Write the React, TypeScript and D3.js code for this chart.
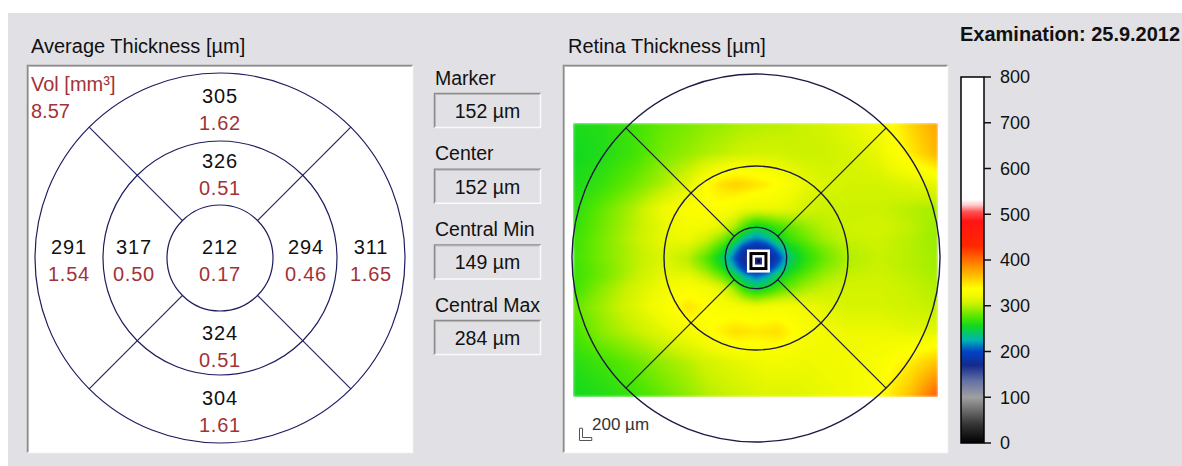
import React, { useMemo } from "react";
import * as d3 from "d3";

const FONT = "'Liberation Sans', Arial, Helvetica, sans-serif";

// ---------------- DATA ----------------
// ETDRS sectors: center, inner ring (top, right, bottom, left), outer ring (top, right, bottom, left)
const sectorRing = [0, 1, 1, 1, 1, 2, 2, 2, 2];
const sectorAngleDeg = [0, -90, 0, 90, 180, -90, 0, 90, 180];
const thicknessUm = [212, 326, 294, 324, 317, 305, 311, 304, 291];
const volumeMm3 = ["0.17", "0.51", "0.46", "0.51", "0.50", "1.62", "1.65", "1.61", "1.54"];
const totalVolumeMm3 = "8.57";

const infoLabels = ["Marker", "Center", "Central Min", "Central Max"];
const infoValuesUm = [152, 152, 149, 284];

const examinationDate = "25.9.2012";

const colorbarTicks = [0, 100, 200, 300, 400, 500, 600, 700, 800];
const colorStopValues = [0, 40, 100, 135, 170, 200, 225, 255, 275, 305, 322, 338, 370, 400, 430, 485, 505, 520, 532, 800];
const colorStopColors = [
  "#000000", "#333333", "#a0a0a0", "#6572a3", "#142a8c", "#0044c8", "#00b4b4", "#10d820",
  "#50e600", "#ccf200", "#f2fa00", "#ffff00", "#ffb400", "#ff7000", "#ff2800", "#ff1414", "#ff5050",
  "#ffc8c8", "#ffffff", "#ffffff",
];

// thickness map sample positions (mm from fovea) and values (µm)
const gridXmm = [-3.0, -2.5, -2.0, -1.5, -1.1, -0.8, -0.55, -0.35, -0.18, 0, 0.18, 0.35, 0.55, 0.8, 1.1, 1.5, 2.0, 2.5, 3.0];
const gridYmm = [-2.2, -1.7, -1.2, -0.8, -0.5, -0.3, -0.15, 0, 0.15, 0.3, 0.5, 0.8, 1.2, 1.7, 2.27];
const thicknessGrid = [
  [258, 262, 270, 280, 285, 290, 292, 295, 297, 298, 300, 300, 302, 305, 308, 315, 325, 355, 380],
  [255, 260, 270, 285, 292, 298, 302, 305, 307, 308, 308, 308, 306, 305, 305, 310, 318, 345, 372],
  [258, 268, 282, 298, 315, 338, 352, 358, 355, 350, 345, 338, 328, 318, 312, 308, 308, 312, 318],
  [262, 280, 298, 322, 332, 336, 334, 326, 320, 318, 318, 318, 315, 308, 305, 305, 305, 300, 295],
  [265, 283, 300, 318, 326, 322, 312, 295, 270, 250, 258, 268, 278, 290, 300, 306, 308, 302, 292],
  [268, 285, 302, 318, 320, 305, 285, 258, 225, 210, 222, 250, 268, 280, 294, 304, 306, 300, 292],
  [268, 285, 300, 315, 308, 290, 262, 225, 185, 172, 182, 215, 250, 268, 285, 300, 305, 300, 292],
  [270, 285, 300, 312, 300, 275, 245, 205, 165, 150, 160, 190, 240, 262, 280, 298, 304, 300, 294],
  [268, 283, 300, 315, 305, 285, 258, 222, 182, 170, 180, 212, 248, 268, 285, 300, 305, 300, 294],
  [268, 283, 302, 318, 318, 302, 282, 255, 225, 210, 222, 248, 265, 280, 294, 304, 306, 302, 296],
  [268, 290, 308, 324, 332, 326, 314, 292, 265, 250, 260, 272, 284, 296, 304, 308, 308, 304, 298],
  [278, 295, 312, 330, 350, 338, 330, 328, 325, 322, 325, 328, 326, 322, 316, 310, 310, 306, 302],
  [270, 290, 302, 315, 326, 335, 345, 352, 350, 348, 350, 352, 342, 330, 324, 320, 320, 316, 315],
  [262, 270, 280, 292, 300, 308, 312, 315, 318, 320, 322, 322, 322, 320, 322, 324, 330, 345, 365],
  [255, 260, 268, 280, 290, 298, 302, 305, 308, 310, 312, 312, 312, 315, 318, 322, 335, 365, 415],
];
const etdrsRadiiMm = [0.5, 1.5, 3.0];
const markerMm = [0.04, 0.05];
const scaleBarUm = 200;

// ---------------- LAYOUT ----------------
const W = 1182;
const H = 466;
const BG = "#e1e0e4";
const RING = "#1d1d5e";
const RED = "#a33238";

const LP = { x: 27, y: 65, w: 386, h: 388, cx: 220, cy: 258 };
const RP = { x: 563, y: 65, w: 385, h: 388, cx: 756, cy: 258 };
const leftRadiiPx = [53, 117, 185];
const labelRadiusPx = [0, 86, 151];

function SunkenBox({ x, y, w, h, fill }: { x: number; y: number; w: number; h: number; fill: string }) {
  return (
    <g>
      <rect x={x} y={y} width={w} height={h} fill={fill} />
      <path d={`M${x + 0.5},${y + h} V${y + 0.5} H${x + w}`} fill="none" stroke="#8c8c8c" strokeWidth={1.5} />
      <path d={`M${x + 1.5},${y + h - 1} V${y + 1.5} H${x + w - 1}`} fill="none" stroke="#b8b8b8" strokeWidth={1} />
      <path d={`M${x + 0.5},${y + h - 0.5} H${x + w - 0.5} V${y + 0.5}`} fill="none" stroke="#fafafa" strokeWidth={1.5} />
    </g>
  );
}

export default function App() {
  const color = useMemo(
    () => d3.scaleLinear<string>().domain(colorStopValues).range(colorStopColors).interpolate(d3.interpolateRgb).clamp(true),
    []
  );
  const mmX = d3.scaleLinear().domain([-3, 3]).range([RP.cx - 184, RP.cx + 184]);
  const mmY = d3.scaleLinear().domain([-3, 3]).range([RP.cy - 184, RP.cy + 184]);
  const cbY = d3.scaleLinear().domain([0, 800]).range([443, 77]);

  const hx0 = Math.round(mmX(gridXmm[0])) + 1;
  const hx1 = Math.round(mmX(gridXmm[gridXmm.length - 1])) - 2;
  const hy0 = Math.round(mmY(gridYmm[0]));
  const hy1 = Math.round(mmY(gridYmm[gridYmm.length - 1]));

  const heatUrl = useMemo(() => {
    if (typeof document === "undefined") return "";
    const w = hx1 - hx0;
    const h = hy1 - hy0;
    const canvas = document.createElement("canvas");
    canvas.width = w;
    canvas.height = h;
    const ctx = canvas.getContext("2d");
    if (!ctx) return "";
    const img = ctx.createImageData(w, h);
    const fx = d3.scaleLinear().domain(gridXmm).range(d3.range(gridXmm.length)).clamp(true);
    const fy = d3.scaleLinear().domain(gridYmm).range(d3.range(gridYmm.length)).clamp(true);
    const nx = gridXmm.length;
    const ny = gridYmm.length;
    for (let j = 0; j < h; j++) {
      const gy = fy(mmY.invert(hy0 + j + 0.5));
      const j0 = Math.min(ny - 2, Math.floor(gy));
      const ty = gy - j0;
      for (let i = 0; i < w; i++) {
        const gx = fx(mmX.invert(hx0 + i + 0.5));
        const i0 = Math.min(nx - 2, Math.floor(gx));
        const tx = gx - i0;
        const a = thicknessGrid[j0][i0] * (1 - tx) + thicknessGrid[j0][i0 + 1] * tx;
        const b = thicknessGrid[j0 + 1][i0] * (1 - tx) + thicknessGrid[j0 + 1][i0 + 1] * tx;
        const v = a * (1 - ty) + b * ty;
        const c = d3.rgb(color(v));
        const k = (j * w + i) * 4;
        img.data[k] = c.r;
        img.data[k + 1] = c.g;
        img.data[k + 2] = c.b;
        img.data[k + 3] = 255;
      }
    }
    ctx.putImageData(img, 0, 0);
    const out = document.createElement("canvas");
    out.width = w;
    out.height = h;
    const octx = out.getContext("2d");
    if (!octx) return canvas.toDataURL();
    octx.filter = "blur(1.5px)";
    octx.drawImage(canvas, 0, 0);
    return out.toDataURL();
  }, []);

  const diagAngles = [45, 135, 225, 315];
  const rightRadii = etdrsRadiiMm.map((r) => mmX(r) - mmX(0));

  const marker = [mmX(markerMm[0]), mmY(markerMm[1])];
  const scalePx = mmX(scaleBarUm / 1000) - mmX(0);

  return (
    <svg width={W} height={H} style={{ position: "absolute", left: 0, top: 0, display: "block" }} fontFamily={FONT}>
      <defs>
        <linearGradient id="cbGrad" x1="0" y1="1" x2="0" y2="0">
          {colorStopValues.map((v, i) => (
            <stop key={i} offset={v / 800} stopColor={colorStopColors[i]} />
          ))}
        </linearGradient>
        <clipPath id="rightClip">
          <rect x={RP.x + 2} y={RP.y + 2} width={RP.w - 4} height={RP.h - 4} />
        </clipPath>
      </defs>
      <rect x={0} y={0} width={W} height={H} fill="#ffffff" />
      <rect x={8} y={13} width={W - 8} height={H - 13} fill={BG} />

      {/* Titles */}
      <text x={31} y={53} fontSize={20} fill="#111">Average Thickness [µm]</text>
      <text x={568} y={53} fontSize={20} fill="#111">Retina Thickness [µm]</text>
      <text x={960} y={41} fontSize={20} fontWeight="bold" fill="#111">
        Examination: {examinationDate}
      </text>

      {/* LEFT PANEL */}
      <SunkenBox x={LP.x} y={LP.y} w={LP.w} h={LP.h} fill="#ffffff" />
      {leftRadiiPx.map((r, i) => (
        <circle key={i} cx={LP.cx} cy={LP.cy} r={r} fill="none" stroke={RING} strokeWidth={1.2} />
      ))}
      {diagAngles.map((a) => {
        const rad = (a * Math.PI) / 180;
        return (
          <line
            key={a}
            x1={LP.cx + leftRadiiPx[0] * Math.cos(rad)}
            y1={LP.cy + leftRadiiPx[0] * Math.sin(rad)}
            x2={LP.cx + leftRadiiPx[2] * Math.cos(rad)}
            y2={LP.cy + leftRadiiPx[2] * Math.sin(rad)}
            stroke={RING}
            strokeWidth={1.1}
          />
        );
      })}
      <text x={31} y={91} fontSize={20} fill={RED}>
        Vol [mm³]
      </text>
      <text x={31} y={118} fontSize={20} fill={RED}>
        {totalVolumeMm3}
      </text>
      {thicknessUm.map((t, i) => {
        const rad = (sectorAngleDeg[i] * Math.PI) / 180;
        const r = labelRadiusPx[sectorRing[i]];
        const x = LP.cx + r * Math.cos(rad);
        const y = LP.cy + r * Math.sin(rad) + 2;
        return (
          <g key={i}>
            <text x={x} y={y - 6} fontSize={20} textAnchor="middle" fill="#111" letterSpacing={0.8}>
              {t}
            </text>
            <text x={x} y={y + 21} fontSize={20} textAnchor="middle" fill={RED} letterSpacing={0.8}>
              {volumeMm3[i]}
            </text>
          </g>
        );
      })}

      {/* MIDDLE INFO BOXES */}
      {infoLabels.map((lab, i) => {
        const y0 = 93 + i * 75.7;
        return (
          <g key={lab}>
            <text x={435} y={y0 - 8.5} fontSize={19.5} fill="#111">
              {lab}
            </text>
            <SunkenBox x={434} y={y0} w={107} h={35} fill={BG} />
            <text x={487.5} y={y0 + 25} fontSize={19.5} textAnchor="middle" fill="#111">
              {infoValuesUm[i]} µm
            </text>
          </g>
        );
      })}

      {/* RIGHT PANEL */}
      <SunkenBox x={RP.x} y={RP.y} w={RP.w} h={RP.h} fill="#ffffff" />
      <g clipPath="url(#rightClip)">
        {heatUrl && (
          <image href={heatUrl} x={hx0} y={hy0} width={hx1 - hx0} height={hy1 - hy0} preserveAspectRatio="none" />
        )}
        {rightRadii.map((r, i) => (
          <circle key={i} cx={RP.cx} cy={RP.cy} r={r} fill="none" stroke="#1a1a44" strokeWidth={1.4} />
        ))}
        {diagAngles.map((a) => {
          const rad = (a * Math.PI) / 180;
          return (
            <line
              key={a}
              x1={RP.cx + rightRadii[0] * Math.cos(rad)}
              y1={RP.cy + rightRadii[0] * Math.sin(rad)}
              x2={RP.cx + rightRadii[2] * Math.cos(rad)}
              y2={RP.cy + rightRadii[2] * Math.sin(rad)}
              stroke="#1a1a44"
              strokeWidth={1.2}
            />
          );
        })}
        {/* fovea marker */}
        <rect x={marker[0] - 11.5} y={marker[1] - 11.5} width={23} height={23} fill="#ffffff" />
        <rect x={marker[0] - 9} y={marker[1] - 9} width={18} height={18} fill="#000000" />
        <rect x={marker[0] - 6} y={marker[1] - 6} width={12} height={12} fill="#ffffff" />
        <rect x={marker[0] - 3.5} y={marker[1] - 3.5} width={7} height={7} fill="#1a2a7a" />
        <rect x={marker[0] - 1.5} y={marker[1] - 1.5} width={3} height={3} fill="#0a0a30" />
        {/* scale bar */}
        <path
          d={`M579.5,${440.5 - scalePx} V440.5 H${579.5 + scalePx} V437.5 H582.5 V${440.5 - scalePx} Z`}
          fill="#ffffff"
          stroke="#555"
          strokeWidth={1}
        />
        <text x={592} y={430} fontSize={17} fill="#333">
          {scaleBarUm} µm
        </text>
      </g>

      {/* COLORBAR */}
      <rect x={961} y={cbY(800)} width={23} height={cbY(0) - cbY(800)} fill="url(#cbGrad)" stroke="#000" strokeWidth={1.5} />
      {colorbarTicks.map((t) => (
        <g key={t}>
          <line x1={984} x2={991} y1={cbY(t)} y2={cbY(t)} stroke="#111" strokeWidth={1.5} />
          <text x={1000} y={cbY(t)} dy="0.36em" fontSize={18} fill="#111">
            {t}
          </text>
        </g>
      ))}
    </svg>
  );
}
